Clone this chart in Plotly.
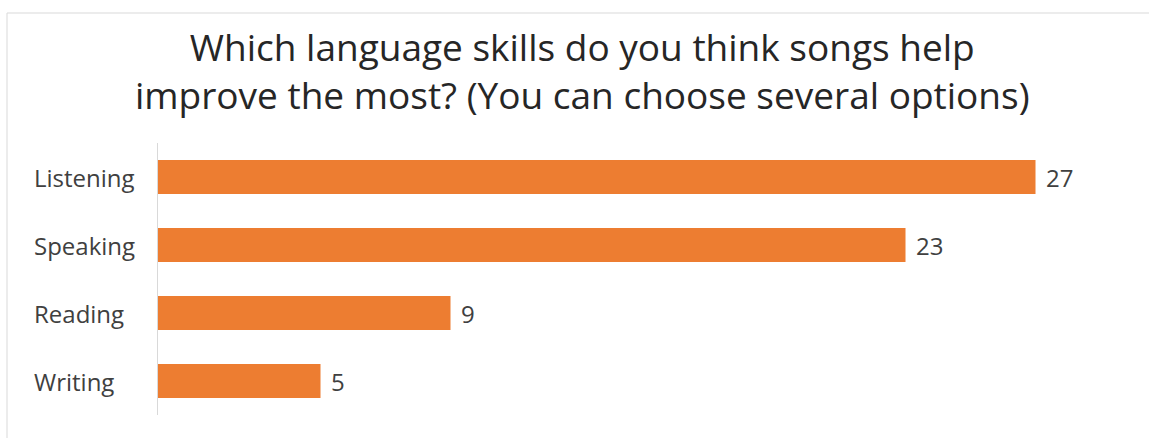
import plotly.graph_objects as go

# Survey results: which language skills songs help improve
skills = ["Listening", "Speaking", "Reading", "Writing"]
votes = [27, 23, 9, 5]

title_lines = [
    "Which language skills do you think songs help",
    "improve the most? (You can choose several options)",
]

W, H = 1149, 438
L, R, T, B = 158, 16, 143, 23
plot_w = W - L - R
plot_h = H - T - B
FONT = "Open Sans, Lato, sans-serif"


def px_x(x):
    return (x - L) / plot_w


def px_y(y):
    return (H - B - y) / plot_h


fig = go.Figure(
    go.Bar(
        x=votes,
        y=skills,
        orientation="h",
        marker=dict(color="#ED7D31", line=dict(width=0)),
        width=0.5,
        hoverinfo="skip",
    )
)

annotations = [
    dict(
        text="<br>".join(title_lines),
        xref="paper",
        yref="paper",
        x=px_x(582),
        y=px_y(70),
        xanchor="center",
        yanchor="middle",
        showarrow=False,
        align="center",
        font=dict(family=FONT, size=37, color="#262626"),
    )
]

# category names, left-aligned like the source chart
for s in skills:
    annotations.append(
        dict(
            text=s,
            xref="paper",
            yref="y",
            x=px_x(32),
            y=s,
            xanchor="left",
            yanchor="middle",
            showarrow=False,
            font=dict(family=FONT, size=24, color="#404040"),
        )
    )

# value labels at the end of each bar
for s, v in zip(skills, votes):
    annotations.append(
        dict(
            text=str(v),
            xref="x",
            yref="y",
            x=v,
            y=s,
            xanchor="left",
            yanchor="middle",
            xshift=8,
            showarrow=False,
            font=dict(family=FONT, size=24, color="#404040"),
        )
    )

fig.update_layout(
    width=W,
    height=H,
    margin=dict(l=L, r=R, t=T, b=B),
    paper_bgcolor="white",
    plot_bgcolor="white",
    showlegend=False,
    font=dict(family=FONT),
    xaxis=dict(
        range=[0, plot_w / 32.5],
        showgrid=False,
        zeroline=False,
        showticklabels=False,
        showline=False,
        fixedrange=True,
    ),
    yaxis=dict(
        autorange="reversed",
        showgrid=False,
        zeroline=False,
        showline=True,
        linecolor="#d9d9d9",
        linewidth=1,
        ticks="",
        showticklabels=False,
        fixedrange=True,
    ),
    shapes=[
        dict(
            type="rect",
            xref="paper",
            yref="paper",
            x0=px_x(7),
            x1=px_x(W + 10),
            y0=px_y(H + 10),
            y1=px_y(13),
            line=dict(color="#d9d9d9", width=1),
            fillcolor="rgba(0,0,0,0)",
            layer="below",
        )
    ],
    annotations=annotations,
)

fig.write_html("out.html")
